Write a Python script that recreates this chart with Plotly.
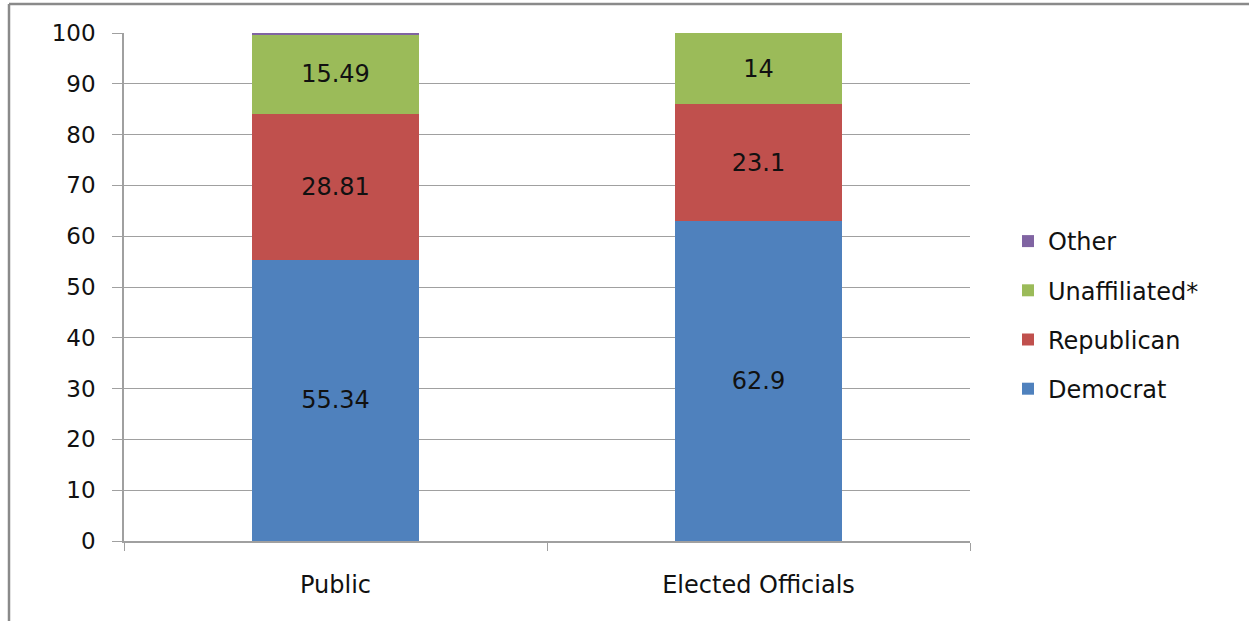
import plotly.graph_objects as go

categories = ["Public", "Elected Officials"]
democrat = [55.34, 62.9]
republican = [28.81, 23.1]
unaffiliated = [15.49, 14]
other = [0.36, 0]
y_ticks = [0, 10, 20, 30, 40, 50, 60, 70, 80, 90, 100]

series = [
    ("Democrat", democrat, "#4F81BD", True, 4),
    ("Republican", republican, "#C0504D", True, 3),
    ("Unaffiliated*", unaffiliated, "#9BBB59", True, 2),
    ("Other", other, "#8064A2", False, 1),
]

FONT = "DejaVu Sans"
TXT = "#111111"
fig = go.Figure()
for name, vals, color, show_text, rank in series:
    fig.add_trace(go.Bar(
        name=name, x=categories, y=vals,
        marker=dict(color=color, line=dict(width=0)),
        text=[f"{v:g}" for v in vals] if show_text else None,
        textposition="inside" if show_text else "none",
        insidetextanchor="middle",
        textfont=dict(family=FONT, size=24, color=TXT),
        legendgroup=name, legendrank=rank,
        hoverinfo="skip",
    ))

L, R, T, B = 124, 970, 33, 541
W, H = 1249, 621
def px_x(p):
    return (p - L) / (R - L)
def px_y(p):
    return (B - p) / (B - T)

fig.update_layout(
    width=W, height=H,
    barmode="stack", bargap=0.603,
    paper_bgcolor="white", plot_bgcolor="white",
    margin=dict(l=L, r=W - R, t=T, b=H - B),
    font=dict(family=FONT, size=23, color=TXT),
    showlegend=True,
    legend=dict(
        x=px_x(1008), y=px_y(315), xanchor="left", yanchor="middle",
        traceorder="grouped", tracegroupgap=15,
        font=dict(family=FONT, size=24, color=TXT),
        itemwidth=30, bgcolor="rgba(0,0,0,0)",
    ),
    xaxis=dict(
        showline=True, linecolor="#A0A0A0", linewidth=1.5,
        ticks="outside", tickson="boundaries", ticklen=8, tickcolor="#A0A0A0",
        tickfont=dict(family=FONT, size=24, color=TXT),
        ticklabelstandoff=21,
        showgrid=False,
    ),
    yaxis=dict(
        range=[0, 100], tickvals=y_ticks,
        showline=True, linecolor="#A0A0A0", linewidth=1.5,
        ticks="outside", ticklen=10, tickcolor="#A0A0A0",
        showgrid=True, gridcolor="#A0A0A0", gridwidth=1.2,
        zeroline=False,
        tickfont=dict(family=FONT, size=23, color=TXT),
        ticklabelstandoff=12,
    ),
    shapes=[
        dict(type="line", xref="paper", yref="paper",
             x0=px_x(9), x1=px_x(W + 5), y0=px_y(4), y1=px_y(4),
             line=dict(color="#8A8A8A", width=2.5)),
        dict(type="line", xref="paper", yref="paper",
             x0=px_x(9), x1=px_x(9), y0=px_y(4), y1=px_y(H + 5),
             line=dict(color="#8A8A8A", width=2.5)),
    ],
)

fig.write_html(
    "out.html",
    config={"displayModeBar": False},
    post_script="document.body.style.margin='0';document.body.style.overflow='hidden';",
)
